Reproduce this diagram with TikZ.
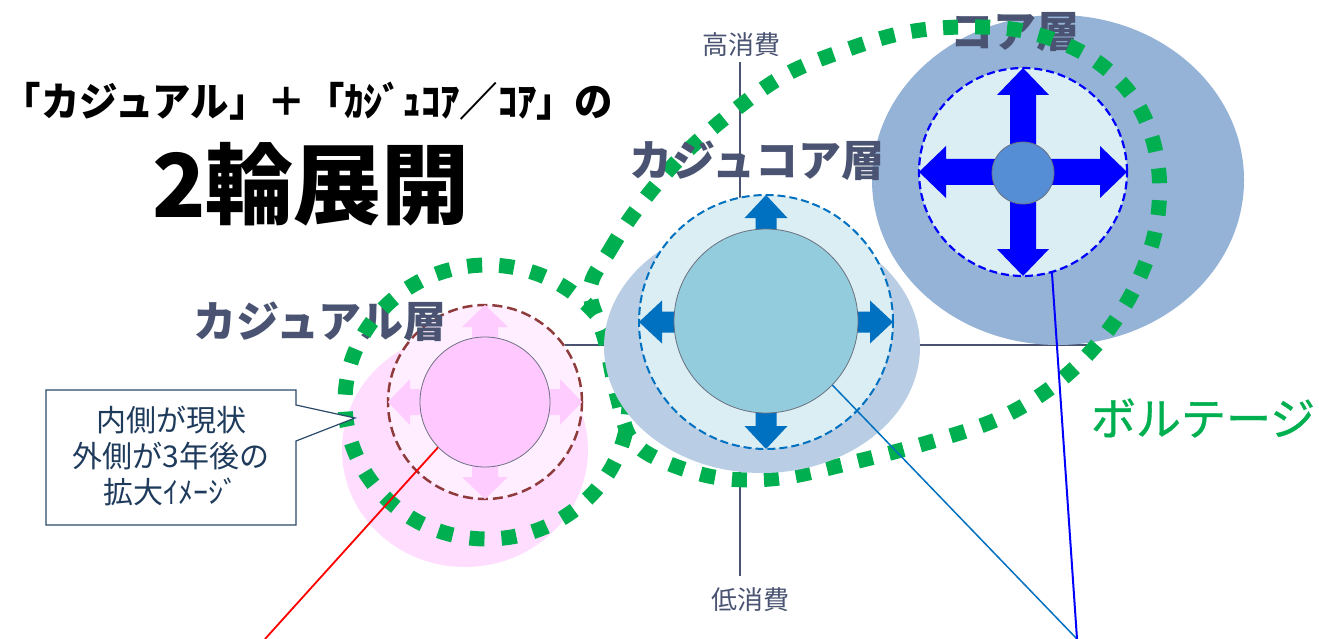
\documentclass[tikz,border=0pt]{standalone}
\usepackage{fontspec}
\newfontfamily\jp{Noto Sans CJK JP}
\newfontfamily\jpm[FakeBold=0.8]{Noto Sans CJK JP}
\definecolor{slate}{HTML}{4A5472}
\definecolor{vgreen}{HTML}{00B050}
\definecolor{blobc}{HTML}{FFDDFF}
\definecolor{casfill}{HTML}{FFEEFF}
\definecolor{casarrowc}{HTML}{FFCCFF}
\definecolor{pinkin}{HTML}{FFC9FF}
\definecolor{casdashc}{HTML}{8E3B3B}
\definecolor{coreell}{HTML}{95B3D7}
\definecolor{dashfill}{HTML}{DAEEF3}
\definecolor{corein}{HTML}{558ED5}
\definecolor{ccell}{HTML}{B9CDE5}
\definecolor{ccin}{HTML}{93CDDD}
\definecolor{ccblue}{HTML}{0070C0}
\definecolor{rim}{HTML}{6B7080}
\definecolor{calloutc}{HTML}{2B4A6B}
\definecolor{callouttxt}{HTML}{1F3B5C}
\newcommand{\myfs}[2]{\fontsize{#1pt}{#2pt}\selectfont}
% center, angle, start, headbase, tip, shafthalf, headhalf, style
\newcommand{\barrow}[8]{\fill[#8, shift={#1}, rotate=#2] (#3,-#6) -- (#4,-#6) -- (#4,-#7) -- (#5,0) -- (#4,#7) -- (#4,#6) -- (#3,#6) -- cycle;}
\begin{document}
\begin{tikzpicture}[x=1pt,y=-1pt,
  axisline/.style={draw=slate, line width=1.8pt},
  dots/.style={draw=vgreen, line width=15pt, dash pattern=on 15pt off 17pt},
  innerc/.style={circle, draw=rim, line width=0.8pt, inner sep=0pt},
  dashc/.style={circle, fill=dashfill, line width=2.2pt, dash pattern=on 8pt off 4pt, inner sep=0pt},
  lbl/.style={font=\jp\bfseries\myfs{43}{50}, text=slate, inner sep=0pt},
  axlbl/.style={font=\jp\myfs{26}{30}, text=slate, inner sep=0pt}]
\path[use as bounding box] (0,0) rectangle (1319,639);
\fill[white] (0,0) rectangle (1319,639);
% axes
\coordinate (hL) at (565,345); \coordinate (hR) at (1090,345);
\coordinate (vT) at (740,62); \coordinate (vB) at (740,576);
\draw[axisline] (hL) -- (hR);
\draw[axisline] (vT) -- (vB);
% casual layer
\fill[blobc] (465,450) ellipse [x radius=123pt, y radius=117pt];
\node[dashc, fill=casfill, draw=casdashc, line width=2.5pt, dash pattern=on 10pt off 5pt, minimum size=194pt] (casDash) at (485,402) {};
\foreach \a in {0,90,180,270} {\barrow{(485,402)}{\a}{0}{75}{97}{13}{23}{casarrowc}}
\node[innerc, fill=pinkin, minimum size=130pt] (casIn) at (485,402) {};
% core layer
\fill[coreell] (1058,180) ellipse [x radius=186pt, y radius=165pt];
\node[dashc, draw=blue, minimum size=208pt] (coreDash) at (1023,172) {};
\foreach \a in {0,90,180,270} {\barrow{(1023,172)}{\a}{0}{77}{104}{13}{26}{blue}}
\node[innerc, fill=corein, minimum size=62pt] (coreIn) at (1023,173) {};
% labels under the dots
\node[lbl] (lCas) at (320,322) {カジュアル層};
\node[lbl] (lCore) at (1015,32) {コア層};
\node[font=\jp\bfseries\myfs{40}{44}, text=black, inner sep=0pt] (t1) at (308,101) {\scalebox{0.96}[1]{「カジュアル」＋「ｶｼﾞｭｺｱ／ｺｱ」の}};
\node[font=\jp\bfseries\myfs{88}{90}, text=black, inner sep=0pt] (t2) at (311,184) {2輪展開};
\node[axlbl] (hi) at (741,45) {高消費};
\node[axlbl] (lo) at (750,600) {低消費};
\node[font=\jpm\myfs{45}{50}, text=vgreen, inner sep=0pt] (volt) at (1203,418) {ボルテージ};
% voltage loops
\draw[dots] (487,402) ellipse [x radius=142pt, y radius=137pt];
\draw[dots] plot[smooth cycle, tension=0.6] coordinates {(590,290) (610,250) (640,205) (683,155) (735,110) (785,75) (840,52) (903,33) (965,27) (1028,32) (1090,57) (1135,100) (1157,158) (1157,222) (1137,283) (1103,337) (1057,383) (1000,418) (930,442) (850,463) (780,478) (720,478) (665,462) (632,440) (618,400) (605,340)};
% casual-core layer
\fill[ccell] (762,347) ellipse [x radius=158pt, y radius=126pt];
\node[dashc, draw=ccblue, line width=2pt, minimum size=254pt] (ccDash) at (766,322) {};
\foreach \a in {0,90,180,270} {\barrow{(766,322)}{\a}{0}{104}{127}{10.5}{21.5}{ccblue}}
\node[innerc, fill=ccin, minimum size=184pt] (ccIn) at (766,321) {};
\node[lbl] (lCC) at (757,161) {カジュコア層};
% callout
\filldraw[fill=white, draw=calloutc, line width=1.2pt] (46,390) -- (296,390) -- (296,405) -- (355,418) -- (296,441) -- (296,525) -- (46,525) -- cycle;
\node[font=\jp\myfs{30}{36}, text=callouttxt, align=center, inner sep=0pt] (callout) at (171,456) {内側が現状\\外側が3年後の\\拡大ｲﾒｰｼﾞ};
% connectors
\coordinate (redEnd) at (265,639);
\coordinate (blueEnd) at (1077,639);
\draw[red, line width=1.8pt] (casIn.224) -- (redEnd);
\draw[ccblue, line width=1.5pt] (ccIn.-44) -- (blueEnd);
\draw[blue, line width=2pt] (coreDash.-74) -- (blueEnd);
\end{tikzpicture}
\end{document}
